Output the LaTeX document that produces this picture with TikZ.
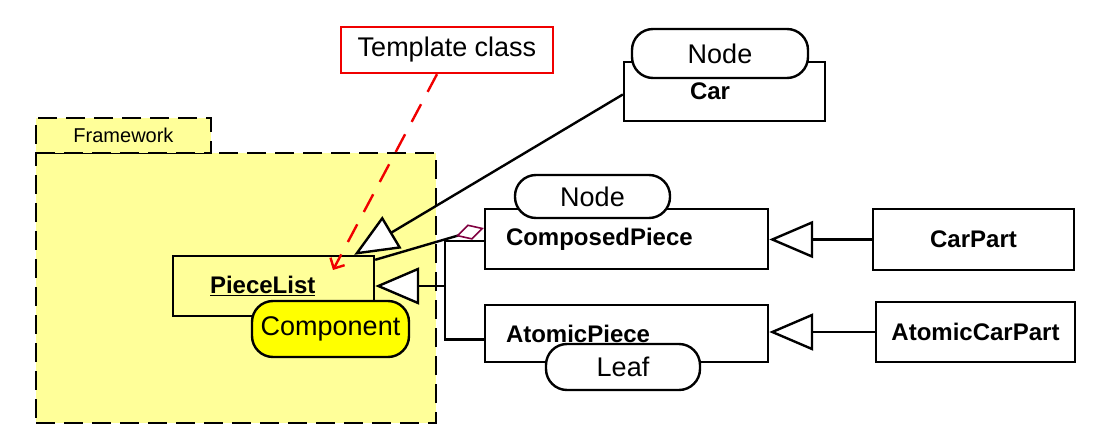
\documentclass[tikz,border=0pt]{standalone}
\usepackage{fontspec}
\setmainfont{Liberation Sans}
\usetikzlibrary{arrows.meta,calc}
\definecolor{pkgyellow}{RGB}{255,255,153}
\definecolor{compyellow}{RGB}{255,255,0}
\definecolor{aggred}{RGB}{128,0,64}
\definecolor{notered}{RGB}{240,0,0}

\begin{document}
\begin{tikzpicture}[x=1pt, y=-1pt, line width=2.4pt,
  pkg/.style={draw, fill=pkgyellow, line width=2.8pt, dash pattern=on 19pt off 9pt, inner sep=0pt},
  cls/.style={draw, fill=white, minimum width=201pt, minimum height=60pt, inner sep=0pt,
    font=\fontsize{24}{28}\selectfont\bfseries},
  pill/.style={draw, fill=white, rounded corners=21pt, inner sep=0pt,
    font=\fontsize{27}{31}\selectfont},
  gen/.style={-{Triangle[open, fill=white, length=44pt, width=37pt]}},
  agg/.style={-{Diamond[open, fill=white, color=aggred, length=29pt, width=16pt, line width=1.6pt]}},
  note/.style={notered, dash pattern=on 20pt off 14pt, -{Straight Barb[length=8pt, width=16pt]}}]
  \useasboundingbox (0,0) rectangle (1113,438);

  % package Framework
  \node[pkg, minimum width=400pt, minimum height=270pt] (framework) at (236,288) {};
  \node[pkg, minimum width=175pt, minimum height=35pt, font=\fontsize{20}{24}\selectfont] (tab) at (123.5,135.5) {Framework};

  % note
  \node[draw=notered, fill=white, minimum width=212pt, minimum height=46pt, inner sep=0pt,
    font=\fontsize{27}{31}\selectfont] (template) at (447,50) {Template class};
  \coordinate (notetip) at (333,270);

  % classes
  \node[cls, fill=none, text width=127pt, inner xsep=37pt, align=left] (piecelist) at (273.5,286) {\underline{PieceList}};
  \node[cls, minimum height=59pt, text width=69pt, inner xsep=66pt, align=left] (car) at (724.5,91.5) {Car};
  \node[cls, text width=241pt, inner xsep=21pt, align=left] (composed) at (626.5,239) {ComposedPiece};
  \node[cls, minimum height=57pt, text width=241pt, inner xsep=21pt, align=left] (atomic) at (626.5,333.5) {AtomicPiece};
  \node[cls, minimum height=61pt] (carpart) at (973.5,239.5) {CarPart};
  \node[cls, minimum width=199pt] (atomiccarpart) at (975.5,332) {AtomicCarPart};

  % connectors
  \draw[note] ([xshift=-10pt]template.south) -- (notetip);
  \draw[gen] ([yshift=-3pt]car.west) -- ([xshift=-21pt]piecelist.north east);
  \draw[agg] ([yshift=-5pt]piecelist.north east) -- ([yshift=11pt]composed.west);
  \coordinate (joint) at (446,286);
  \draw ([yshift=-2pt]composed.west) -- ++(-39,0) |- ([yshift=-6pt]atomic.west);
  \draw[gen] (joint) -- (piecelist.east);
  \draw[gen] (carpart.west) -- (carpart.west -| composed.east);
  \draw[gen] (atomiccarpart.west) -- (atomiccarpart.west -| atomic.east);

  % stereotypes
  \node[pill, minimum width=176pt, minimum height=49pt] (carnode) at (720,53.5) {Node};
  \node[pill, minimum width=155pt, minimum height=43pt] (composednode) at (592.5,196.5) {Node};
  \node[pill, minimum width=154pt, minimum height=46pt] (leaf) at (623,367) {Leaf};
  \node[pill, fill=compyellow, minimum width=157pt, minimum height=56pt] (component) at (330.5,329) {Component};
\end{tikzpicture}
\end{document}
